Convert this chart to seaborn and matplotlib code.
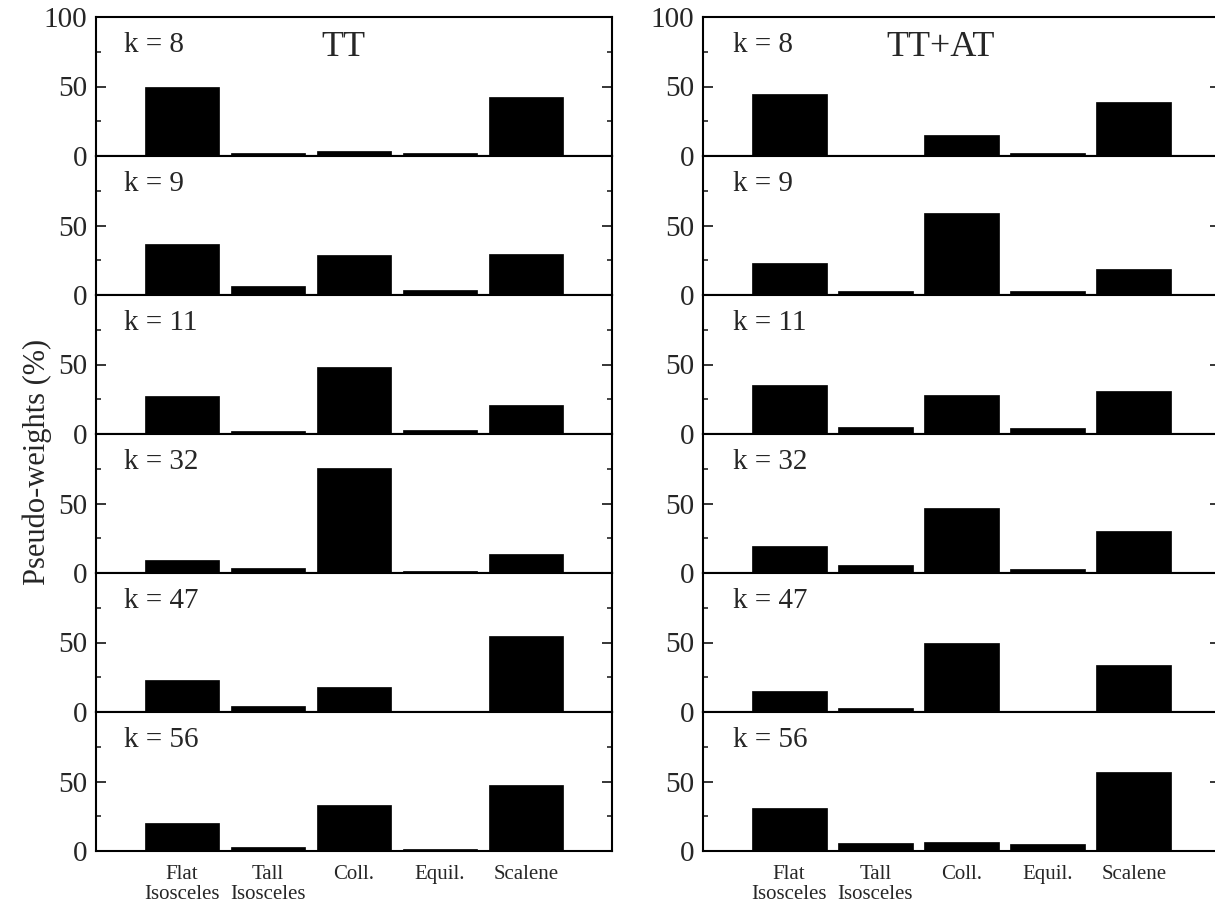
import numpy as np
import pandas as pd
import matplotlib
matplotlib.use("Agg")
import matplotlib.pyplot as plt
import seaborn as sns

categories = ["Flat\nIsosceles", "Tall\nIsosceles", "Coll.", "Equil.", "Scalene"]
k_labels = ["k = 8", "k = 9", "k = 11", "k = 32", "k = 47", "k = 56"]
column_titles = ["TT", "TT+AT"]

# TT column values (%), one list per k
tt_k8 = [50.0, 2.4, 3.6, 2.4, 42.7]
tt_k9 = [36.5, 6.5, 28.6, 3.6, 29.3]
tt_k11 = [27.3, 2.0, 48.5, 2.9, 21.2]
tt_k32 = [9.1, 3.8, 75.7, 1.4, 13.5]
tt_k47 = [23.0, 4.6, 17.7, 1.0, 54.9]
tt_k56 = [19.8, 2.6, 33.3, 1.4, 47.4]

# TT+AT column values (%)
ttat_k8 = [44.9, 1.0, 14.8, 2.4, 39.0]
ttat_k9 = [22.8, 2.6, 58.7, 2.6, 18.5]
ttat_k11 = [35.5, 4.8, 28.3, 4.1, 30.7]
ttat_k32 = [19.2, 5.5, 46.6, 3.1, 30.3]
ttat_k47 = [15.0, 3.2, 50.0, 1.0, 33.7]
ttat_k56 = [30.7, 5.9, 6.6, 5.0, 56.8]

columns = [
    [tt_k8, tt_k9, tt_k11, tt_k32, tt_k47, tt_k56],
    [ttat_k8, ttat_k9, ttat_k11, ttat_k32, ttat_k47, ttat_k56],
]

sns.set_style("ticks")
plt.rcParams["font.family"] = ["Liberation Serif", "DejaVu Serif"]

W, H = 1215, 907
fig = plt.figure(figsize=(W / 100, H / 100), dpi=100)

top_px, bot_px = 17, 851
col_x = [(96, 612), (703, 1220)]
n = 6
ph = (bot_px - top_px) / n

for c, (x0, x1) in enumerate(col_x):
    for r in range(n):
        y_top = top_px + r * ph
        ax = fig.add_axes([x0 / W, 1 - (y_top + ph) / H, (x1 - x0) / W, ph / H])
        df = pd.DataFrame({"cat": categories, "val": columns[c][r]})
        sns.barplot(data=df, x="cat", y="val", color="black", width=0.87,
                    saturation=1, edgecolor="black", linewidth=0.5, ax=ax)
        ax.set_xlim(-1.0, 5.0)
        ax.set_ylim(0, 100)
        ax.set_xlabel("")
        ax.set_ylabel("")
        ax.set_yticks([0, 50, 100])
        if r == 0:
            ax.set_yticklabels(["0", "50", "100"])
        else:
            ax.set_yticklabels(["0", "50", ""])
        ax.set_yticks([25, 75], minor=True)
        ax.tick_params(axis="y", which="major", direction="in", length=7.5, width=1.3,
                       left=True, right=True, labelsize=21, pad=6.5)
        ax.tick_params(axis="y", which="minor", direction="in", length=3.5, width=1.2,
                       left=True, right=True)
        ax.tick_params(axis="x", length=0, labelsize=15, pad=10)
        if r < n - 1:
            ax.set_xticklabels([])
        else:
            for t in ax.get_xticklabels():
                t.set_linespacing(1.05)
        for s in ax.spines.values():
            s.set_visible(True)
            s.set_linewidth(1.5)
            s.set_color("black")
        ax.text(0.054 if c == 0 else 0.058, 0.8, k_labels[r], transform=ax.transAxes,
                fontsize=21, ha="left", va="center")
        if r == 0:
            ax.text(0.48 if c == 0 else 0.46, 0.78, column_titles[c],
                    transform=ax.transAxes, fontsize=26, ha="center", va="center")

fig.text(37 / W, 1 - 462 / H, "Pseudo-weights (%)", rotation=90, fontsize=22,
         ha="center", va="center")

fig.savefig("out.png", dpi=100)
